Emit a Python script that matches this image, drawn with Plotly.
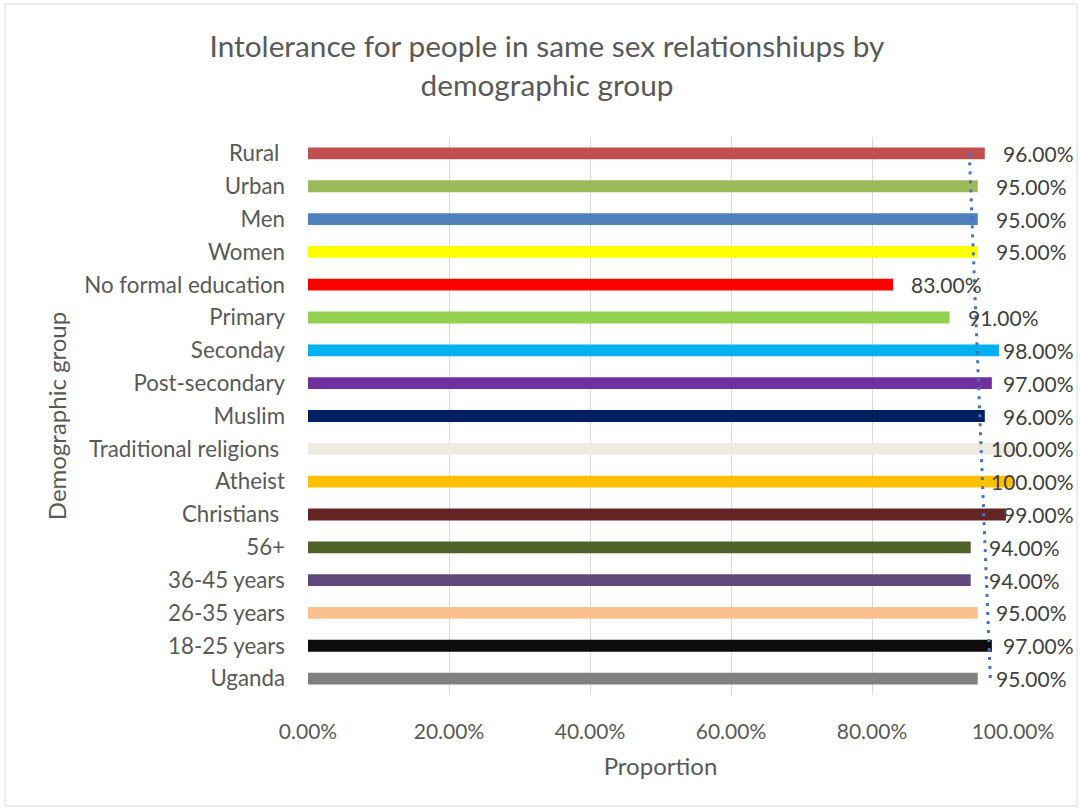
import numpy as np
import plotly.graph_objects as go

categories = ["Rural ", "Urban", "Men", "Women", "No formal education", "Primary",
              "Seconday", "Post-secondary", "Muslim", "Traditional religions ",
              "Atheist", "Christians ", "56+", "36-45 years", "26-35 years",
              "18-25 years", "Uganda"]
values = [0.96, 0.95, 0.95, 0.95, 0.83, 0.91, 0.98, 0.97, 0.96, 1.00,
          1.00, 0.99, 0.94, 0.94, 0.95, 0.97, 0.95]
bar_colors = ["#C0504D", "#9BBB59", "#4F81BD", "#FFFF00", "#FF0000", "#92D050",
              "#00B0F0", "#7030A0", "#002060", "#EEECE1", "#FFC000", "#632523",
              "#4F6228", "#604A7B", "#FAC090", "#0D0D0D", "#808080"]
x_ticks = [0, 0.2, 0.4, 0.6, 0.8, 1.0]
x_tick_labels = ["0.00%", "20.00%", "40.00%", "60.00%", "80.00%", "100.00%"]

FONT = "Lato"
TXT = "#595959"
W, H = 1080, 809
ML, MR, MT, MB = 308, 67, 137, 114
PW = W - ML - MR
PH = H - MT - MB
n = len(categories)

fig = go.Figure()
fig.add_trace(go.Bar(
    y=categories, x=values, orientation="h",
    marker=dict(color=bar_colors, line=dict(width=0)),
    width=0.36, showlegend=False, hoverinfo="x+y"))

# linear trendline (Excel-style, over category index, bottom = 1)
idx = np.arange(1, n + 1)
vals_bottom_up = np.array(values[::-1])
slope, intercept = np.polyfit(idx, vals_bottom_up, 1)
trend = (slope * idx + intercept)[::-1]
fig.add_trace(go.Scatter(
    y=categories, x=trend, mode="lines",
    line=dict(color="#4472C4", width=3, dash="3px,6px"),
    showlegend=False, hoverinfo="skip"))

# data labels (kept inside chart area like Excel)
LBL_FONT = dict(family=FONT, size=21, color="#404040")
right_limit_px = 1076
for c, v in zip(categories, values):
    t = f"{v*100:.2f}%"
    w_est = len(t) * 11.8
    natural_right = ML + v * PW + 16 + w_est
    if natural_right <= right_limit_px:
        fig.add_annotation(x=v, y=c, xref="x", yref="y", text=t, showarrow=False,
                           xanchor="left", xshift=16, font=LBL_FONT)
    else:
        fig.add_annotation(x=(right_limit_px - ML) / PW, y=c, xref="paper", yref="y",
                           text=t, showarrow=False, xanchor="right", font=LBL_FONT)

# chart border
fig.add_shape(type="rect", xref="paper", yref="paper",
              x0=(5 - ML) / PW, x1=(1077 - ML) / PW,
              y0=(MT + PH - 806) / PH, y1=(MT + PH - 4) / PH,
              line=dict(color="#D9D9D9", width=1), fillcolor="rgba(0,0,0,0)",
              layer="below")

fig.update_layout(
    width=W, height=H,
    margin=dict(l=ML, r=MR, t=MT, b=MB),
    paper_bgcolor="white", plot_bgcolor="white",
    font=dict(family=FONT, color=TXT),
    title=dict(text="Intolerance for people in same sex relationshiups by<br>demographic group",
               x=547 / W, xanchor="center",
               y=1 - 57 / H, yanchor="middle",
               font=dict(family=FONT, size=29.8, color=TXT)),
    xaxis=dict(range=[0, 1], tickvals=x_ticks, ticktext=x_tick_labels,
               showgrid=True, gridcolor="#D9D9D9", gridwidth=1,
               zeroline=False, showline=False, ticks="",
               ticklabelstandoff=22,
               tickfont=dict(family=FONT, size=21, color=TXT),
               title=dict(text="Proportion", standoff=16,
                          font=dict(family=FONT, size=24, color=TXT))),
    yaxis=dict(range=[n - 0.5, -0.5], showgrid=False, zeroline=False,
               showline=False, ticks="", ticklabelstandoff=22,
               tickfont=dict(family=FONT, size=22.3, color=TXT),
               title=dict(text="Demographic group", standoff=10,
                          font=dict(family=FONT, size=24, color=TXT))),
)

fig.write_html("out.html")
